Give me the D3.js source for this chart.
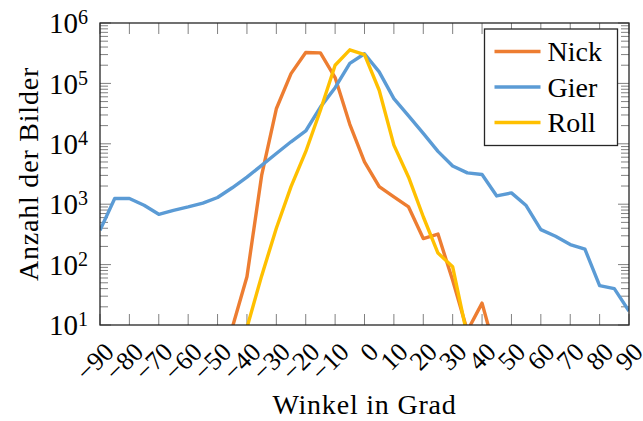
<!DOCTYPE html>
<html>
<head>
<meta charset="utf-8">
<script src="https://cdnjs.cloudflare.com/ajax/libs/d3/7.8.5/d3.min.js"></script>
<style>
    body { margin: 0; background: #fff; }
    svg text { font-family: "Liberation Serif", "Times New Roman", serif; fill: #000; }
</style>
</head>
<body>
<div id="chart"></div>
<script>
//Winkel (x axis categories), one point every 5 degrees
var angles = [-90, -85, -80, -75, -70, -65, -60, -55, -50, -45, -40, -35, -30, -25, -20, -15, -10, -5, 0,
    5, 10, 15, 20, 25, 30, 35, 40, 45, 50, 55, 60, 65, 70, 75, 80, 85, 90];

//Anzahl der Bilder per series (values below 10 are outside the plot and get clipped)
var nick = [1, 1, 1, 1, 1, 1, 1, 1, 1, 9, 63, 3000, 38000, 145000, 325000, 320000, 125000, 21000, 5000,
    1950, 1320, 900, 270, 320, 55, 8, 23, 3, 1, 1, 1, 1, 1, 1, 1, 1, 1];
var gier = [370, 1240, 1240, 960, 680, 790, 900, 1040, 1290, 1870, 2800, 4400, 6900, 10800, 16300, 40500, 85000, 214000, 310000,
    155000, 56000, 29000, 14900, 7500, 4300, 3300, 3100, 1370, 1540, 950, 380, 295, 215, 180, 45, 40, 17];
var roll = [1, 1, 1, 1, 1, 1, 1, 1, 1, 1, 9, 65, 400, 1950, 7400, 36000, 200000, 360000, 300000,
    77000, 9500, 2800, 620, 155, 92, 6.5, 1, 1, 1, 1, 1, 1, 1, 1, 1, 1, 1];

var series_names = ["Nick", "Gier", "Roll"];
var series_values = [nick, gier, roll];
var series_colors = ["#ED7D31", "#5B9BD5", "#FFC000"];

//Tick labels
var x_ticks = [-90, -80, -70, -60, -50, -40, -30, -20, -10, 0, 10, 20, 30, 40, 50, 60, 70, 80, 90];
var y_exponents = [1, 2, 3, 4, 5, 6];

var margin = {top: 23, right: 14, bottom: 96, left: 100},
    width = 643 - margin.left - margin.right,
    height = 421 - margin.top - margin.bottom;

var x = d3.scaleLinear()
    .domain([-90, 90])
    .range([0, width]);

//Please note y is scale LOG!
var y = d3.scaleLog()
    .domain([10, 1e6])
    .range([height, 0]);

var svg = d3.select("#chart").append("svg")
    .attr("width", width + margin.left + margin.right)
    .attr("height", height + margin.top + margin.bottom)
    .append("g")
    .attr("transform", "translate(" + margin.left + "," + margin.top + ")");

svg.append("clipPath")
    .attr("id", "plot_clip")
    .append("rect")
    .attr("width", width)
    .attr("height", height);

//Minor ticks 2..9 in every decade
var minor_values = [];
y_exponents.slice(0, -1).forEach(function(e) {
    for (var m = 2; m <= 9; m++) { minor_values.push(m * Math.pow(10, e)); }
});
var major_values = y_exponents.map(function(e) { return Math.pow(10, e); });

//Ticks drawn inward on all four sides
var tick_group = svg.append("g").attr("class", "ticks")
    .style("stroke", "#808080")
    .style("stroke-width", 1);

function y_ticks(values, len) {
    [0, width].forEach(function(side) {
        var dir = side === 0 ? 1 : -1;
        tick_group.selectAll(null)
            .data(values)
            .enter().append("line")
            .attr("x1", side)
            .attr("x2", side + dir * len)
            .attr("y1", function(d) { return y(d); })
            .attr("y2", function(d) { return y(d); });
    });
}
y_ticks(major_values, 11);
y_ticks(minor_values, 8);

[0, height].forEach(function(side) {
    var dir = side === 0 ? 1 : -1;
    tick_group.selectAll(null)
        .data(x_ticks)
        .enter().append("line")
        .attr("x1", function(d) { return x(d); })
        .attr("x2", function(d) { return x(d); })
        .attr("y1", side)
        .attr("y2", side + dir * 11);
});

//Lines
var line = d3.line()
    .x(function(d) { return x(d[0]); })
    .y(function(d) { return y(d[1]); });

svg.append("g")
    .attr("clip-path", "url(#plot_clip)")
    .selectAll("path")
    .data(series_values)
    .enter().append("path")
    .attr("d", function(vals) {
        return line(angles.map(function(a, i) { return [a, vals[i]]; }));
    })
    .style("fill", "none")
    .style("stroke", function(d, i) { return series_colors[i]; })
    .style("stroke-width", 3.4)
    .style("stroke-linejoin", "round");

//Frame
svg.append("rect")
    .attr("width", width)
    .attr("height", height)
    .style("fill", "none")
    .style("stroke", "#262626")
    .style("stroke-width", 1.3);

//Y tick labels 10^n
var y_labels = svg.selectAll(".ylab")
    .data(y_exponents)
    .enter().append("text")
    .attr("class", "ylab")
    .attr("x", -12)
    .attr("y", function(d) { return y(Math.pow(10, d)); })
    .attr("dy", "0.35em")
    .style("text-anchor", "end")
    .style("font-size", "29px");
y_labels.append("tspan").text("10");
y_labels.append("tspan")
    .attr("dy", "-0.45em")
    .style("font-size", "20px")
    .text(function(d) { return d; });

//X tick labels, rotated
svg.selectAll(".xlab")
    .data(x_ticks)
    .enter().append("text")
    .attr("class", "xlab")
    .attr("transform", function(d) { return "translate(" + (x(d) + 9) + "," + (height + 22) + ") rotate(-45)"; })
    .attr("dy", "0.35em")
    .style("text-anchor", "end")
    .style("font-size", "26px")
    .text(function(d) { return d < 0 ? "\u2212" + Math.abs(d) : d; });

//X-axis label
svg.append("text")
    .attr("x", width / 2)
    .attr("y", height + 89)
    .style("text-anchor", "middle")
    .style("font-size", "28px")
    .style("letter-spacing", "0.8px")
    .text("Winkel in Grad");

//Y-axis label
svg.append("text")
    .attr("transform", "rotate(-90)")
    .attr("x", -height / 2)
    .attr("y", -margin.left + 28)
    .attr("dy", "0.35em")
    .style("text-anchor", "middle")
    .style("font-size", "28px")
    .style("letter-spacing", "0.8px")
    .text("Anzahl der Bilder");

//Legend
var legend = svg.append("g")
    .attr("transform", "translate(" + (484.5 - margin.left) + "," + (29 - margin.top) + ")");

legend.append("rect")
    .attr("width", 133)
    .attr("height", 116.5)
    .style("fill", "#fff")
    .style("stroke", "#262626")
    .style("stroke-width", 1.3);

var entry = legend.selectAll(".entry")
    .data(series_names)
    .enter().append("g")
    .attr("class", "entry")
    .attr("transform", function(d, i) { return "translate(0," + (22.5 + i * 35.5) + ")"; });

entry.append("line")
    .attr("x1", 10)
    .attr("x2", 56)
    .style("stroke", function(d, i) { return series_colors[i]; })
    .style("stroke-width", 3.4);

entry.append("text")
    .attr("x", 63)
    .attr("dy", "0.35em")
    .style("font-size", "28px")
    .text(function(d) { return d; });
</script>
</body>
</html>
